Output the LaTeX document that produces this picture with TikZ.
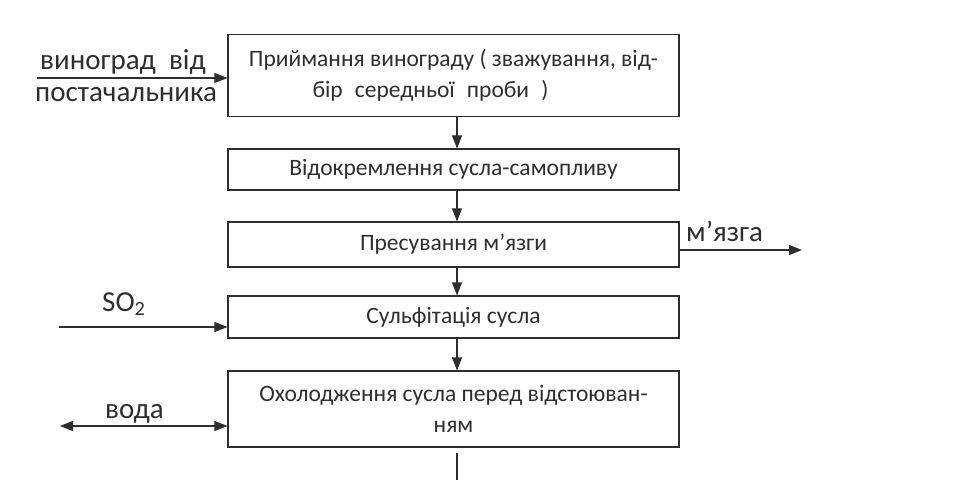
\documentclass[tikz,border=0pt]{standalone}
\usepackage{fontspec}
\setmainfont{Carlito}
\usetikzlibrary{arrows.meta}
\definecolor{ink}{HTML}{2E2E2E}
\begin{document}
\begin{tikzpicture}[x=1pt,y=-1pt,
  box/.style={draw=ink, line width=1.1pt, minimum width=451pt, inner sep=0pt, align=center,
    text=ink, font=\fontsize{23.5}{31}\selectfont},
  lbl/.style={text=ink, font=\fontsize{29}{37}\selectfont, inner sep=0pt},
  flow/.style={draw=ink, line width=1.1pt, -{Triangle[length=13pt,width=10pt]}},
  flowd/.style={draw=ink, line width=1.1pt, {Triangle[length=13pt,width=10pt]}-{Triangle[length=13pt,width=10pt]}}]
\useasboundingbox (0,0) rectangle (974,489);
\node[box, minimum height=82pt] (b1) at (453.5,75.5) {Приймання винограду ( зважування, від-\\\hspace*{-46pt}\makebox[236pt][s]{бір середньої проби )}};
\node[box, minimum height=41pt] (b2) at (453.5,169.5) {Відокремлення сусла-самопливу};
\node[box, minimum height=45pt] (b3) at (453.5,244.5) {Пресування м’язги};
\node[box, minimum height=42pt] (b4) at (453.5,317) {Сульфітація сусла};
\node[box, minimum height=76pt] (b5) at (453.5,409) {Охолодження сусла перед відстоюван-\\ням};
\draw[flow] (b1.south -| 457,0) -- (b2.north -| 457,0);
\draw[flow] (b2.south -| 457,0) -- (b3.north -| 457,0);
\draw[flow] (b3.south -| 457,0) -- (b4.north -| 457,0);
\draw[flow] (b4.south -| 457,0) -- (b5.north -| 457,0);
\coordinate (down) at (457,480);
\draw[ink, line width=1.1pt] ([yshift=-5pt]b5.south -| 457,0) -- (down);
% inputs
\coordinate (g0) at (37,78);
\draw[flow] (g0) -- (g0 -| b1.west);
\node[lbl, anchor=base west] (lg1) at (40,70) {виноград\ \ від};
\node[lbl, anchor=base west] (lg2) at (35,102) {постачальника};
\coordinate (m1) at (802,250);
\draw[flow] (m1 -| b3.east) -- (m1);
\node[lbl, anchor=base west] (lm) at (686,241) {м’язга};
\coordinate (s0) at (59,327);
\draw[flow] (s0) -- (s0 -| b4.west);
\node[lbl, anchor=base west] (ls) at (102,311) {SO\textsubscript{2}};
\coordinate (v0) at (60,426);
\draw[flowd] (v0) -- (v0 -| b5.west);
\node[lbl, anchor=base west] (lv) at (105,418) {вода};
\end{tikzpicture}
\end{document}
